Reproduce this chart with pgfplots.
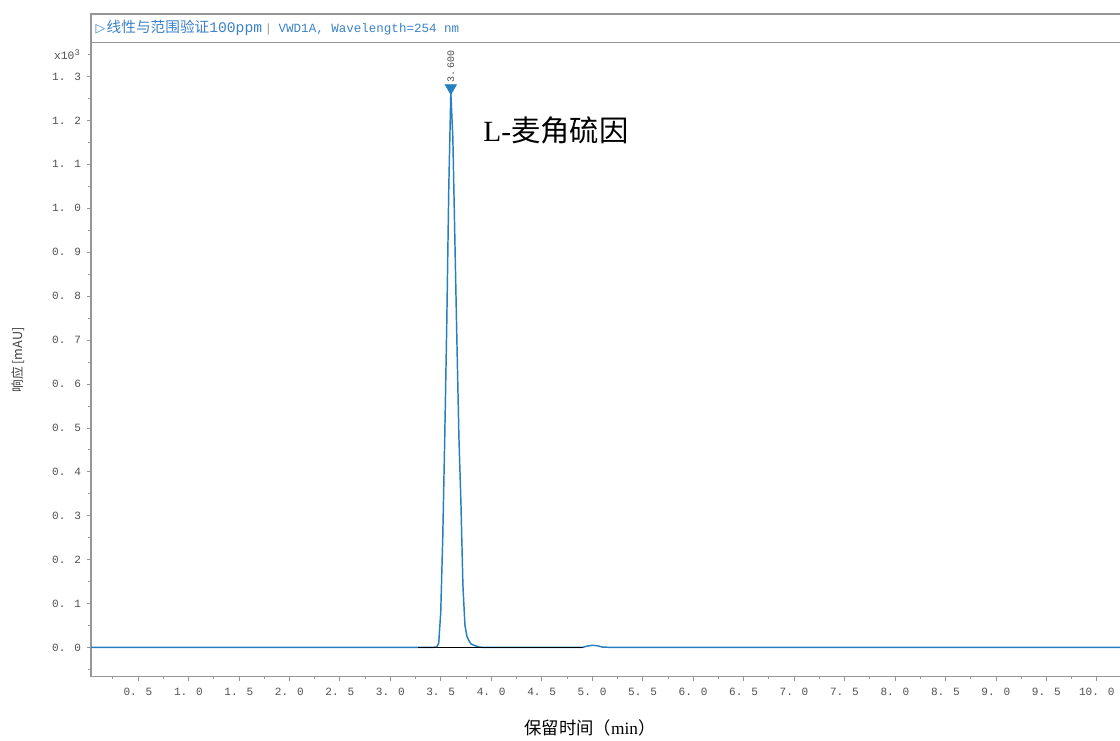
\documentclass[border=0pt]{standalone}
\usepackage{fontspec}
\setmainfont{Liberation Serif}
\newfontfamily\cjk{Noto Sans CJK SC}
\newfontfamily\mono{Liberation Mono}
\newfontfamily\dejavu{DejaVu Sans}
\usepackage{pgfplots}
\pgfplotsset{compat=1.18}
\definecolor{sigblue}{RGB}{38,128,192}
\definecolor{titleblue}{RGB}{60,130,200}
\definecolor{axgray}{RGB}{150,150,150}
\definecolor{labgray}{RGB}{80,80,80}
\begin{document}
\begin{tikzpicture}
\useasboundingbox (0,0) rectangle (840pt,555pt);
\begin{axis}[
  at={(68.25pt,47.5pt)}, anchor=south west,
  scale only axis, width=771.75pt, height=475.5pt,
  xmin=0.035, xmax=10.23, ymin=-0.0665, ymax=1.377,
  axis x line*=bottom, axis y line*=left,
  axis line style={axgray, line width=0.8pt},
  tick align=outside,
  major tick length=3pt, minor tick length=2pt,
  tick style={axgray, line width=0.5pt},
  xtick={0.5,1,1.5,2,2.5,3,3.5,4,4.5,5,5.5,6,6.5,7,7.5,8,8.5,9,9.5,10},
  xticklabels={0. 5,1. 0,1. 5,2. 0,2. 5,3. 0,3. 5,4. 0,4. 5,5. 0,5. 5,6. 0,6. 5,7. 0,7. 5,8. 0,8. 5,9. 0,9. 5,10. 0},
  minor xtick={0.25,0.75,1.25,1.75,2.25,2.75,3.25,3.75,4.25,4.75,5.25,5.75,6.25,6.75,7.25,7.75,8.25,8.75,9.25,9.75,10.25},
  ytick={0,0.1,0.2,0.3,0.4,0.5,0.6,0.7,0.8,0.9,1.0,1.1,1.2,1.3},
  yticklabels={0. 0,0. 1,0. 2,0. 3,0. 4,0. 5,0. 6,0. 7,0. 8,0. 9,1. 0,1. 1,1. 2,1. 3},
  minor ytick={-0.05,0.05,0.15,0.25,0.35,0.45,0.55,0.65,0.75,0.85,0.95,1.05,1.15,1.25,1.35},
  ticklabel style={font=\mono\fontsize{8.3}{10}\selectfont, text=labgray},
  xticklabel style={yshift=-2pt},
  yticklabel style={xshift=-1pt},
  clip=false,
]
\addplot[sigblue, line width=1.1pt] coordinates {
(0.035,0) (3.30,0) (3.40,0) (3.46,0.001) (3.48,0.010) (3.50,0.08) (3.52,0.25)
(3.54,0.48) (3.56,0.74) (3.58,1.05) (3.60,1.263) (3.62,1.16) (3.64,0.93)
(3.66,0.70) (3.68,0.48) (3.70,0.33) (3.72,0.14) (3.74,0.05) (3.76,0.025)
(3.78,0.015) (3.80,0.008) (3.84,0.004) (3.88,0.001) (3.92,0) (4.90,0)
(4.95,0.003) (5.00,0.005) (5.05,0.004) (5.10,0.001) (5.20,0) (10.23,0)
};
\addplot[black, line width=0.9pt] coordinates {(3.275,0) (4.91,0)};
\addplot[only marks, mark=triangle*, mark size=5pt, draw=sigblue, fill=sigblue,
  mark options={rotate=180, draw=sigblue, fill=sigblue}] coordinates {(3.6,1.274)};
\node[rotate=90, font=\mono\fontsize{7.5}{8}\selectfont, text=labgray, inner sep=0pt]
  at (axis cs:3.6,1.322) {3.\,600};
\node[anchor=west, inner sep=0pt, font=\fontsize{22}{24}\selectfont]
  at (axis cs:3.92,1.178) {L-{\cjk 麦角硫因}};
\end{axis}
% x10^3 label
\node[anchor=east, inner sep=0pt, font=\mono\fontsize{8.5}{10}\selectfont, text=labgray]
  at (60pt,514pt) {x10\raisebox{3pt}{\fontsize{6.5}{7}\selectfont 3}};
% title band
\draw[axgray, line width=0.8pt] (68.25pt,523pt) -- (841pt,523pt);
\draw[axgray, line width=0.8pt] (68.25pt,523pt) -- (68.25pt,544.5pt) -- (841pt,544.5pt);
\node[anchor=west, inner sep=0pt, text=titleblue] at (71.5pt,534pt)
  {{\dejavu\fontsize{9.5}{10}\selectfont ▷}\hspace{1pt}{\cjk\fontsize{11}{12}\selectfont 线性与范围验证}{\mono\fontsize{11}{12}\selectfont 100ppm}\hspace{2pt}{\color{axgray}\mono\fontsize{9}{10}\selectfont|}\hspace{5pt}{\mono\fontsize{9.4}{10}\selectfont VWD1A, Wavelength=254 nm}};
\node[rotate=90, font=\cjk\fontsize{9.5}{10}\selectfont, text=black!75] at (13.5pt,285pt) {响应 [mAU]};
\node[font=\fontsize{13}{14}\selectfont] at (442.5pt,9pt) {{\cjk 保留时间（}min{\cjk ）}};
\end{tikzpicture}
\end{document}
